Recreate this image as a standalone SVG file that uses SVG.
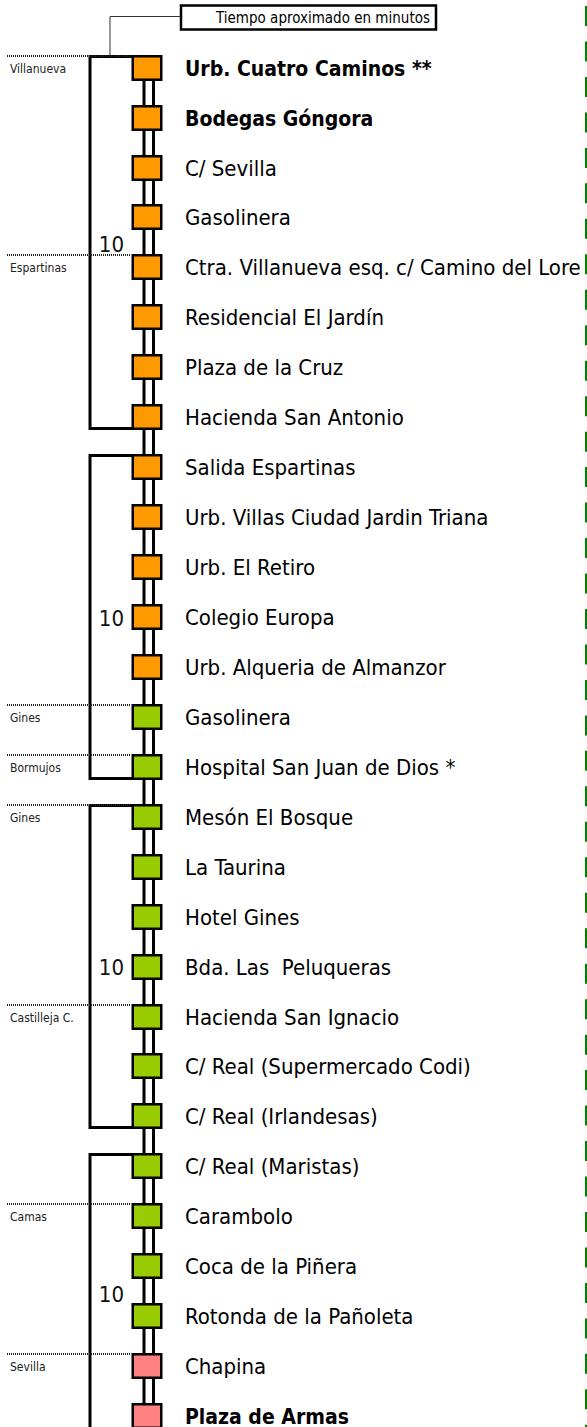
<svg xmlns="http://www.w3.org/2000/svg" width="587" height="1427" viewBox="0 0 587 1427">
<style>
text{font-family:"DejaVu Sans Condensed","DejaVu Sans",sans-serif;fill:#000}
.lbl{font-size:22px}
.b{font-weight:bold;font-size:21px}
.ten{font-size:22px;text-anchor:end;fill:#111}
.town{font-size:12px;fill:#222}
.sq{stroke:#000;stroke-width:2.5}
.o{fill:#FF9900}.g{fill:#99CC00}.p{fill:#FF8080}
.br{fill:none;stroke:#000;stroke-width:3}
.rail{stroke:#000;stroke-width:3}
.dot{stroke:#222;stroke-width:2;stroke-dasharray:1 1}
</style>
<rect width="587" height="1427" fill="#fff"/>
<g id="edge-dashes"><line x1="586" y1="6" x2="586" y2="1427" stroke="#008000" stroke-width="2" stroke-dasharray="20 15.47"/></g>
<g id="title">
<rect x="181" y="5.5" width="255" height="24" fill="#fff" stroke="#000" stroke-width="2.5"/>
<text x="323" y="23" font-size="15" text-anchor="middle">Tiempo aproximado en minutos</text>
</g>
<g id="connectors">
<path d="M180 16.5 H110 V55" fill="none" stroke="#333" stroke-width="1"/>
<line class="rail" x1="144" y1="68" x2="144" y2="1427"/>
<line class="rail" x1="153.5" y1="68" x2="153.5" y2="1427"/>
<path class="br" d="M132 56.5 H90 V428.5 H132"/>
<path class="br" d="M132 455.5 H90 V778.5 H132"/>
<path class="br" d="M132 805.5 H90 V1127.5 H132"/>
<path class="br" d="M132 1154.5 H90 V1427"/>
</g>
<g id="towns">
<line class="dot" x1="7" y1="56" x2="131" y2="56"/><text class="town" x="10" y="72.5">Villanueva</text>
<line class="dot" x1="7" y1="255" x2="131" y2="255"/><text class="town" x="10" y="271.5">Espartinas</text>
<line class="dot" x1="7" y1="705" x2="131" y2="705"/><text class="town" x="10" y="721.5">Gines</text>
<line class="dot" x1="7" y1="755" x2="131" y2="755"/><text class="town" x="10" y="771.5">Bormujos</text>
<line class="dot" x1="7" y1="805" x2="131" y2="805"/><text class="town" x="10" y="821.5">Gines</text>
<line class="dot" x1="7" y1="1005" x2="131" y2="1005"/><text class="town" x="10" y="1021.5">Castilleja C.</text>
<line class="dot" x1="7" y1="1204" x2="131" y2="1204"/><text class="town" x="10" y="1220.5">Camas</text>
<line class="dot" x1="7" y1="1354" x2="131" y2="1354"/><text class="town" x="10" y="1370.5">Sevilla</text>
</g>
<g id="times">
<text class="ten" x="124" y="251.5">10</text>
<text class="ten" x="124" y="626">10</text>
<text class="ten" x="124" y="975">10</text>
<text class="ten" x="124" y="1301.5">10</text>
</g>
<g id="stop-0"><rect class="sq o" x="132.75" y="56.25" width="28.5" height="23.5"/><text class="lbl b" x="185" y="75.5">Urb. Cuatro Caminos **</text></g>
<g id="stop-1"><rect class="sq o" x="132.75" y="106.25" width="28.5" height="23.5"/><text class="lbl b" x="185" y="125.5">Bodegas Góngora</text></g>
<g id="stop-2"><rect class="sq o" x="132.75" y="156.25" width="28.5" height="23.5"/><text class="lbl" x="185" y="175.5">C/ Sevilla</text></g>
<g id="stop-3"><rect class="sq o" x="132.75" y="205.25" width="28.5" height="23.5"/><text class="lbl" x="185" y="224.5">Gasolinera</text></g>
<g id="stop-4"><rect class="sq o" x="132.75" y="255.25" width="28.5" height="23.5"/><text class="lbl" x="185" y="274.5">Ctra. Villanueva esq. c/ Camino del Lore</text></g>
<g id="stop-5"><rect class="sq o" x="132.75" y="305.25" width="28.5" height="23.5"/><text class="lbl" x="185" y="324.5">Residencial El Jardín</text></g>
<g id="stop-6"><rect class="sq o" x="132.75" y="355.25" width="28.5" height="23.5"/><text class="lbl" x="185" y="374.5">Plaza de la Cruz</text></g>
<g id="stop-7"><rect class="sq o" x="132.75" y="405.25" width="28.5" height="23.5"/><text class="lbl" x="185" y="424.5">Hacienda San Antonio</text></g>
<g id="stop-8"><rect class="sq o" x="132.75" y="455.25" width="28.5" height="23.5"/><text class="lbl" x="185" y="474.5">Salida Espartinas</text></g>
<g id="stop-9"><rect class="sq o" x="132.75" y="505.25" width="28.5" height="23.5"/><text class="lbl" x="185" y="524.5">Urb. Villas Ciudad Jardin Triana</text></g>
<g id="stop-10"><rect class="sq o" x="132.75" y="555.25" width="28.5" height="23.5"/><text class="lbl" x="185" y="574.5">Urb. El Retiro</text></g>
<g id="stop-11"><rect class="sq o" x="132.75" y="605.25" width="28.5" height="23.5"/><text class="lbl" x="185" y="624.5">Colegio Europa</text></g>
<g id="stop-12"><rect class="sq o" x="132.75" y="655.25" width="28.5" height="23.5"/><text class="lbl" x="185" y="674.5">Urb. Alqueria de Almanzor</text></g>
<g id="stop-13"><rect class="sq g" x="132.75" y="705.25" width="28.5" height="23.5"/><text class="lbl" x="185" y="724.5">Gasolinera</text></g>
<g id="stop-14"><rect class="sq g" x="132.75" y="755.25" width="28.5" height="23.5"/><text class="lbl" x="185" y="774.5">Hospital San Juan de Dios *</text></g>
<g id="stop-15"><rect class="sq g" x="132.75" y="805.25" width="28.5" height="23.5"/><text class="lbl" x="185" y="824.5">Mesón El Bosque</text></g>
<g id="stop-16"><rect class="sq g" x="132.75" y="855.25" width="28.5" height="23.5"/><text class="lbl" x="185" y="874.5">La Taurina</text></g>
<g id="stop-17"><rect class="sq g" x="132.75" y="905.25" width="28.5" height="23.5"/><text class="lbl" x="185" y="924.5">Hotel Gines</text></g>
<g id="stop-18"><rect class="sq g" x="132.75" y="955.25" width="28.5" height="23.5"/><text class="lbl" x="185" y="974.5" xml:space="preserve">Bda. Las  Peluqueras</text></g>
<g id="stop-19"><rect class="sq g" x="132.75" y="1005.25" width="28.5" height="23.5"/><text class="lbl" x="185" y="1024.5">Hacienda San Ignacio</text></g>
<g id="stop-20"><rect class="sq g" x="132.75" y="1054.25" width="28.5" height="23.5"/><text class="lbl" x="185" y="1073.5">C/ Real (Supermercado Codi)</text></g>
<g id="stop-21"><rect class="sq g" x="132.75" y="1104.25" width="28.5" height="23.5"/><text class="lbl" x="185" y="1123.5">C/ Real (Irlandesas)</text></g>
<g id="stop-22"><rect class="sq g" x="132.75" y="1154.25" width="28.5" height="23.5"/><text class="lbl" x="185" y="1173.5">C/ Real (Maristas)</text></g>
<g id="stop-23"><rect class="sq g" x="132.75" y="1204.25" width="28.5" height="23.5"/><text class="lbl" x="185" y="1223.5">Carambolo</text></g>
<g id="stop-24"><rect class="sq g" x="132.75" y="1254.25" width="28.5" height="23.5"/><text class="lbl" x="185" y="1273.5">Coca de la Piñera</text></g>
<g id="stop-25"><rect class="sq g" x="132.75" y="1304.25" width="28.5" height="23.5"/><text class="lbl" x="185" y="1323.5">Rotonda de la Pañoleta</text></g>
<g id="stop-26"><rect class="sq p" x="132.75" y="1354.25" width="28.5" height="23.5"/><text class="lbl" x="185" y="1373.5">Chapina</text></g>
<g id="stop-27"><rect class="sq p" x="132.75" y="1404.25" width="28.5" height="23.5"/><text class="lbl b" x="185" y="1423.5">Plaza de Armas</text></g>
</svg>
